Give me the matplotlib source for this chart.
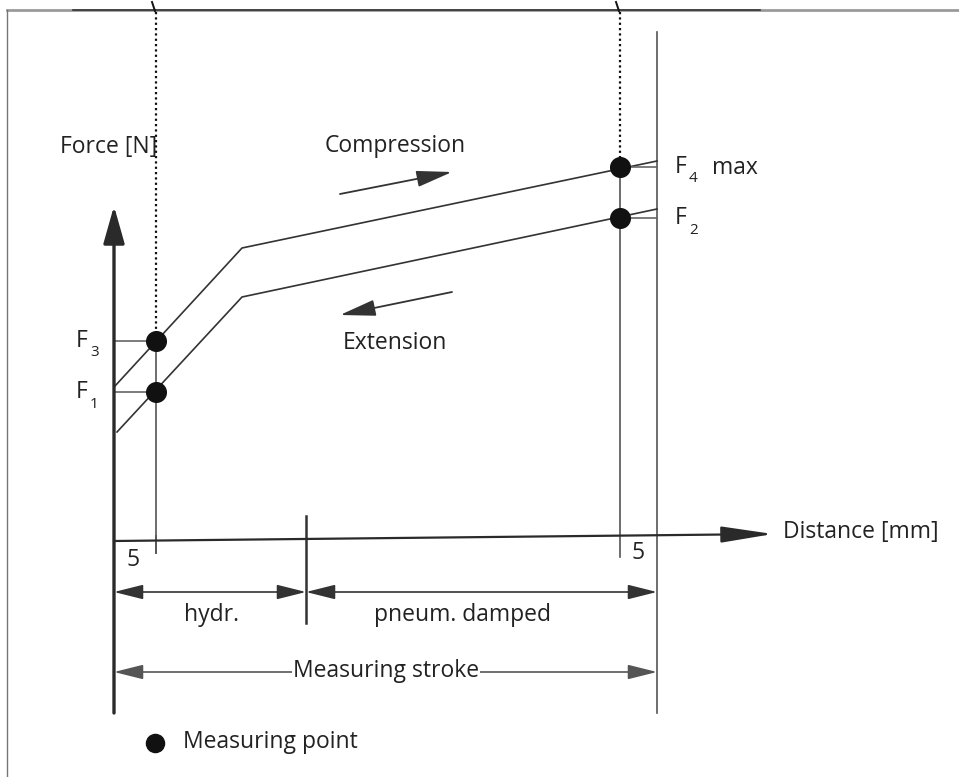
import matplotlib
matplotlib.use("Agg")
import matplotlib.pyplot as plt

# diagram coordinates are given in picture units (x to the right, y downwards)
axis_x0 = 114
axis_y0 = 541

# force curves: compression (upper) and extension (lower)
compression_x = [115, 242, 657]
compression_y = [386, 248, 161]
extension_x = [117, 242, 657]
extension_y = [432, 297, 209]

# measuring points
point_x = [156, 156, 620, 620]
point_y = [341, 392, 167, 218]
point_names = ["3", "1", "4", "2"]

# stroke positions
stroke_start = 114
hydr_end = 306
stroke_end = 657
measure_left = 156
measure_right = 620

FONT = "Open Sans"
TXT = "#222222"
LINE = "#333333"
FS = 16.5


def arrow(ax, start, tip, lw=1.2, hl=1.8, hw=0.45, style="-|>", color=LINE):
    ax.annotate("", xy=tip, xytext=start,
                arrowprops=dict(arrowstyle=f"{style},head_length={hl},head_width={hw}",
                                color=color, lw=lw, shrinkA=0, shrinkB=0,
                                mutation_scale=10))


def label(ax, x, y, s, size=FS, ha="left", **kw):
    ax.text(x, y, s, fontsize=size, family=FONT, color=TXT, ha=ha, va="center", **kw)


fig = plt.figure(figsize=(9.59, 7.77), dpi=100)
ax = fig.add_axes([0, 0, 1, 1])
ax.set_xlim(0, 959)
ax.set_ylim(777, 0)
ax.axis("off")

# frame
ax.plot([7, 959], [10, 10], color="#9a9a9a", lw=2.0)
ax.plot([73, 760], [10, 10], color="#333333", lw=1.2)
ax.plot([7, 7], [10, 777], color="#777777", lw=1.0)

# dotted guides and small top ticks
for mx, y_end in [(measure_left, point_y[0]), (measure_right, point_y[2])]:
    ax.plot([mx, mx], [12, y_end], color="#111111", lw=1.6, ls=(0, (1, 1.4)))
    ax.plot([mx - 4, mx - 1], [2, 11], color="#111111", lw=1.4)

# right end line
ax.plot([stroke_end, stroke_end], [32, 713], color="#555555", lw=1.2)

# measuring verticals
ax.plot([measure_left, measure_left], [point_y[0], 553], color="#555555", lw=1.2)
ax.plot([measure_right, measure_right], [point_y[2], 557], color="#555555", lw=1.2)

# axes
arrow(ax, (axis_x0, 713), (axis_x0, 206), lw=2.4, hl=2.3, hw=0.65, color="#2a2a2a")
arrow(ax, (axis_x0, axis_y0), (773, 534), lw=1.6, hl=3.2, hw=0.5, color="#2a2a2a")
label(ax, 60, 147, "Force [N]")
label(ax, 783, 532, "Distance [mm]")

# curves
ax.plot(compression_x, compression_y, color=LINE, lw=1.2)
ax.plot(extension_x, extension_y, color=LINE, lw=1.2)

# horizontal ticks to points
for px, py in zip(point_x, point_y):
    if px < 400:
        ax.plot([axis_x0, px], [py, py], color="#666666", lw=1.2)
    else:
        ax.plot([px, stroke_end], [py, py], color="#666666", lw=1.2)

ax.scatter(point_x, point_y, s=200, color="#111111", zorder=5)

# point labels
for px, py, n in zip(point_x, point_y, point_names):
    lx = 76 if px < 400 else 675
    label(ax, lx, py, "F")
    label(ax, lx + 14, py + 12, n, size=11)
label(ax, 712, 168, "max")

# direction arrows
arrow(ax, (340, 194), (452, 172), lw=1.3, hl=2.2, hw=0.5)
label(ax, 395, 146, "Compression", ha="center")
arrow(ax, (452, 292), (340, 315), lw=1.3, hl=2.2, hw=0.5)
label(ax, 395, 343, "Extension", ha="center")

# x axis ticks and '5' labels
ax.plot([measure_left, measure_left], [536, 553], color="#555555", lw=1.2)
label(ax, 133, 560, "5", ha="center")
label(ax, 638, 553, "5", ha="center")

# dimension lines
ax.plot([hydr_end, hydr_end], [516, 623], color="#333333", lw=1.8)
arrow(ax, (stroke_start, 592), (hydr_end, 592), lw=1.2, style="<|-|>")
arrow(ax, (hydr_end, 592), (stroke_end, 592), lw=1.2, style="<|-|>")
label(ax, 211, 615, "hydr.", ha="center")
label(ax, 462, 615, "pneum. damped", ha="center")

arrow(ax, (stroke_start, 672), (stroke_end, 672), lw=1.2, style="<|-|>", color="#555555")
label(ax, 386, 671, "Measuring stroke", ha="center",
      bbox=dict(facecolor="white", edgecolor="none", pad=0.5))

# legend
ax.scatter([155], [743], s=170, color="#111111")
label(ax, 183, 742, "Measuring point")

fig.savefig("out.png", dpi=100, facecolor="white")
